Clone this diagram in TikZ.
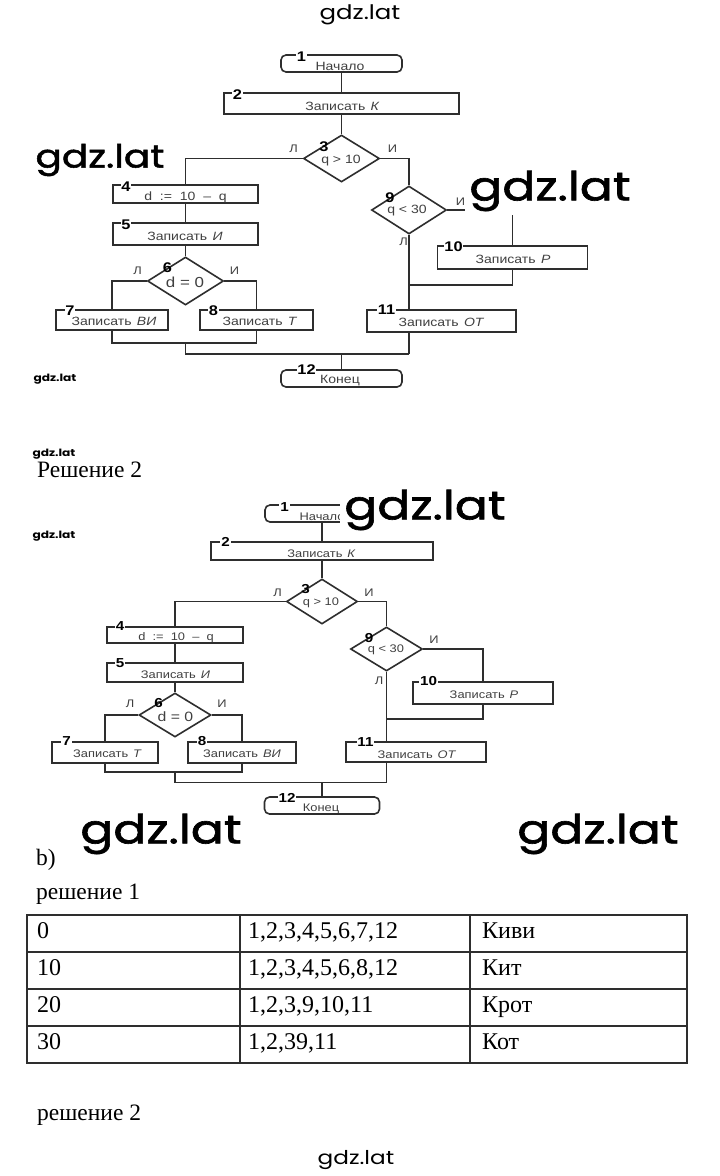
\documentclass[tikz,border=0pt]{standalone}
\usepackage{fontspec}
\setmainfont{Liberation Serif}
\newfontfamily\cf[FakeStretch=1.17]{Liberation Sans}
\newfontfamily\wmf[FakeStretch=1.22,FakeBold=1.6]{Poppins}
\newfontfamily\wmt[FakeStretch=1.22]{Poppins}
\usetikzlibrary{shapes.geometric}
\definecolor{ln}{HTML}{2E2E2E}
\definecolor{tx}{HTML}{404040}
\begin{document}
\begin{tikzpicture}[x=1pt,y=-1pt,
  fc/.style={draw=ln, line width=1.6pt, inner sep=0pt},
  box/.style={fc, rectangle},
  term/.style={fc, rectangle, rounded corners=5pt},
  dia/.style={fc, diamond},
  con/.style={draw=ln, line width=1.6pt},
  num/.style={fill=white, inner sep=0.8pt, text=black, font=\cf\bfseries\fontsize{14}{14}\selectfont},
  numb/.style={num, font=\cf\bfseries\fontsize{13}{13}\selectfont},
  txt/.style={inner sep=0pt, anchor=base, text=tx, font=\cf\fontsize{12}{12}\selectfont},
  txtb/.style={txt, font=\cf\fontsize{11}{12}\selectfont},
  big/.style={txt, font=\cf\fontsize{14.5}{14}\selectfont},
  bigb/.style={txt, font=\cf\fontsize{13.5}{13}\selectfont},
  lbl/.style={inner sep=0pt, text=tx, font=\cf\fontsize{11}{11}\selectfont},
  head/.style={inner sep=0pt, anchor=base west, text=black, font=\fontsize{23.5}{24}\selectfont},
  cell/.style={inner sep=0pt, anchor=base west, text=black, font=\fontsize{24}{24}\selectfont},
  tbl/.style={draw=ln, line width=1.2pt},
  wm/.style={fill=white, inner sep=4pt, text=black},
]
\useasboundingbox (0,0) rectangle (720,1176);
\fill[white] (0,0) rectangle (720,1176);

% ================= top flowchart =================
\node[term, minimum width=121pt, minimum height=17pt] (a1) at (341.5,63.5) {};
\node[box, minimum width=235pt, minimum height=21pt] (a2) at (341.5,103.5) {};
\node[dia, minimum width=76pt, minimum height=47pt] (a3) at (341.5,158.5) {};
\node[box, minimum width=145pt, minimum height=18pt] (a4) at (185.5,194) {};
\node[box, minimum width=145pt, minimum height=22pt] (a5) at (185.5,234) {};
\node[dia, minimum width=76pt, minimum height=48pt] (a6) at (185.5,281) {};
\node[box, minimum width=112pt, minimum height=20pt] (a7) at (112,320) {};
\node[box, minimum width=113pt, minimum height=20pt] (a8) at (256.5,320) {};
\node[dia, minimum width=75pt, minimum height=48pt] (a9) at (409,210) {};
\node[box, minimum width=150pt, minimum height=23pt] (a10) at (512.5,257.5) {};
\node[box, minimum width=149pt, minimum height=22pt] (a11) at (441.5,321) {};
\node[term, minimum width=121pt, minimum height=17pt] (a12) at (341.5,378.5) {};

\coordinate (am1) at (185.5,343);
\coordinate (aj1) at (409,354);
\coordinate (aj2) at (409,285);
\coordinate (aj3) at (341.5,354);

\draw[con] (a1.south) -- (a2.north);
\draw[con] (a2.south) -- (a3.north);
\draw[con] (a3.west) -| (a4.north);
\draw[con] (a4.south) -- (a5.north);
\draw[con] (a5.south) -- (a6.north);
\draw[con] (a6.west) -| (a7.north);
\draw[con] (a6.east) -| (a8.north);
\draw[con] (a7.south) |- (am1) -| (a8.south);
\draw[con] (am1) |- (aj1);
\draw[con] (a3.east) -| (a9.north);
\draw[con] (a9.east) -| (a10.north);
\draw[con] (a10.south) |- (aj2);
\draw[con] (a9.south) -- (a9.south |- a11.north);
\draw[con] (a9.south |- a11.south) -- (aj1);
\draw[con] (aj3) -- (a12.north);

\node[txt] (ta1) at (340,70) {Начало};
\node[txt] (ta2) at (342.5,110) {Записать\hspace{0.45em}\textit{К}};
\node[txt] (ta3) at (341,163) {q > 10};
\node[txt] (ta4) at (185.5,200) {d\ \ :=\ \ 10\ \ –\ \ q};
\node[txt] (ta5) at (185,240) {Записать\hspace{0.45em}\textit{И}};
\node[big] (ta6) at (185,287) {d = 0};
\node[txt] (ta7) at (114,325.5) {Записать\hspace{0.45em}\textit{ВИ}};
\node[txt] (ta8) at (260,325.5) {Записать\hspace{0.45em}\textit{Т}};
\node[txt] (ta9) at (407,213) {q < 30};
\node[txt] (ta10) at (513,263) {Записать\hspace{0.45em}\textit{Р}};
\node[txt] (ta11) at (441.5,326) {Записать\hspace{0.45em}\textit{ОТ}};
\node[txt] (ta12) at (340,383) {Конец};

\node[num] (na1) at (301.5,56.5) {1};
\node[num] (na2) at (237.5,95) {2};
\node[num, fill=none] (na3) at (324,147) {3};
\node[num] (na4) at (126,187) {4};
\node[num] (na5) at (126,225) {5};
\node[num, fill=none] (na6) at (167.5,268) {6};
\node[num] (na7) at (70,311) {7};
\node[num] (na8) at (213.5,311) {8};
\node[num, fill=none] (na9) at (390,198) {9};
\node[num] (na10) at (453.5,247) {10};
\node[num] (na11) at (386.5,310) {11};
\node[num] (na12) at (306.5,370) {12};

\node[lbl] (la3) at (293.5,148.5) {Л};
\node[lbl] (ia3) at (392.5,148.5) {И};
\node[lbl] (la6) at (137.5,270.5) {Л};
\node[lbl] (ia6) at (234.5,270.5) {И};
\node[lbl] (ia9) at (460.5,201.5) {И};
\node[lbl] (la9) at (403.5,241.5) {Л};

% ================= headings =================
\node[head] (h1) at (37,477) {Решение 2};

% ================= bottom flowchart =================
\node[term, minimum width=114pt, minimum height=17pt] (b1) at (322,513.5) {};
\node[box, minimum width=222pt, minimum height=18pt] (b2) at (322,551) {};
\node[dia, minimum width=71pt, minimum height=45pt] (b3) at (322,601.5) {};
\node[box, minimum width=136pt, minimum height=16pt] (b4) at (175,635) {};
\node[box, minimum width=136pt, minimum height=19pt] (b5) at (175,672.5) {};
\node[dia, minimum width=72pt, minimum height=44pt] (b6) at (175,715) {};
\node[box, minimum width=106pt, minimum height=21pt] (b7) at (105,752.5) {};
\node[box, minimum width=108pt, minimum height=21pt] (b8) at (242,752.5) {};
\node[dia, minimum width=72pt, minimum height=44pt] (b9) at (386.5,649) {};
\node[box, minimum width=140pt, minimum height=22pt] (b10) at (483,693) {};
\node[box, minimum width=140pt, minimum height=20pt] (b11) at (416,752) {};
\node[term, minimum width=115pt, minimum height=17pt] (b12) at (322,805.5) {};

\coordinate (bm1) at (175,772);
\coordinate (bj1) at (386.5,782.5);
\coordinate (bj2) at (386.5,719);
\coordinate (bj3) at (322,782.5);

\draw[con] (b1.south) -- (b2.north);
\draw[con] (b2.south) -- (b3.north);
\draw[con] (b3.west) -| (b4.north);
\draw[con] (b4.south) -- (b5.north);
\draw[con] (b5.south) -- (b6.north);
\draw[con] (b6.west) -| (b7.north);
\draw[con] (b6.east) -| (b8.north);
\draw[con] (b7.south) |- (bm1) -| (b8.south);
\draw[con] (bm1) |- (bj1);
\draw[con] (b3.east) -| (b9.north);
\draw[con] (b9.east) -| (b10.north);
\draw[con] (b10.south) |- (bj2);
\draw[con] (b9.south) -- (b9.south |- b11.north);
\draw[con] (b9.south |- b11.south) -- (bj1);
\draw[con] (bj3) -- (b12.north);

\node[txtb] (tb1) at (322,520) {Начало};
\node[txtb] (tb2) at (321.5,557) {Записать\hspace{0.45em}\textit{К}};
\node[txtb] (tb3) at (321,605) {q > 10};
\node[txtb] (tb4) at (176,640) {d\ \ :=\ \ 10\ \ –\ \ q};
\node[txtb] (tb5) at (175.5,678) {Записать\hspace{0.45em}\textit{И}};
\node[bigb] (tb6) at (175.5,721) {d = 0};
\node[txtb] (tb7) at (107.5,757) {Записать\hspace{0.45em}\textit{Т}};
\node[txtb] (tb8) at (242,757) {Записать\hspace{0.45em}\textit{ВИ}};
\node[txtb] (tb9) at (386,652) {q < 30};
\node[txtb] (tb10) at (484,698) {Записать\hspace{0.45em}\textit{Р}};
\node[txtb] (tb11) at (417,758) {Записать\hspace{0.45em}\textit{ОТ}};
\node[txtb] (tb12) at (321,811) {Конец};

\node[numb] (nb1) at (284.5,507) {1};
\node[numb] (nb2) at (225.5,542) {2};
\node[numb, fill=none] (nb3) at (305.5,589) {3};
\node[numb] (nb4) at (120,626) {4};
\node[numb] (nb5) at (120,663) {5};
\node[numb, fill=none] (nb6) at (158.5,703) {6};
\node[numb] (nb7) at (66.5,741) {7};
\node[numb] (nb8) at (202,741) {8};
\node[numb, fill=none] (nb9) at (369,638) {9};
\node[numb] (nb10) at (428.5,681.5) {10};
\node[numb] (nb11) at (365.5,742) {11};
\node[numb] (nb12) at (287,798) {12};

\node[lbl] (lb3) at (277.5,593) {Л};
\node[lbl] (ib3) at (369,593) {И};
\node[lbl] (lb6) at (130,704) {Л};
\node[lbl] (ib6) at (222,704) {И};
\node[lbl] (ib9) at (434,640) {И};
\node[lbl] (lb9) at (379,681) {Л};

% ================= part b =================
\node[head] (h2) at (36,865) {b)};
\node[head] (h3) at (36,899) {решение 1};
\node[head] (h4) at (37,1120) {решение 2};

\draw[tbl] (27,915) rectangle (687,1063);
\draw[tbl] (27,952) -- (687,952);
\draw[tbl] (27,989) -- (687,989);
\draw[tbl] (27,1026) -- (687,1026);
\draw[tbl] (240,915) -- (240,1063);
\draw[tbl] (470,915) -- (470,1063);

\node[cell] (c11) at (37,938) {0};
\node[cell] (c12) at (248,938) {1,2,3,4,5,6,7,12};
\node[cell] (c13) at (482,938) {Киви};
\node[cell] (c21) at (37,975) {10};
\node[cell] (c22) at (248,975) {1,2,3,4,5,6,8,12};
\node[cell] (c23) at (482,975) {Кит};
\node[cell] (c31) at (37,1012) {20};
\node[cell] (c32) at (248,1012) {1,2,3,9,10,11};
\node[cell] (c33) at (482,1012) {Крот};
\node[cell] (c41) at (37,1049) {30};
\node[cell] (c42) at (248,1049) {1,2,39,11};
\node[cell] (c43) at (482,1049) {Кот};

% ================= watermarks =================
\node[wm, font=\wmt\fontsize{20}{20}\selectfont] (w1) at (360,15) {gdz.lat};
\node[wm, font=\wmf\fontsize{32}{32}\selectfont] (w2) at (100,160) {gdz.lat};
\node[wm, font=\wmf\fontsize{40}{40}\selectfont] (w3) at (550,191) {gdz.lat};
\node[wm, font=\wmf\fontsize{40}{40}\selectfont] (w4) at (425,510) {gdz.lat};
\node[wm, font=\wmf\fontsize{40}{40}\selectfont] (w5) at (161,834) {gdz.lat};
\node[wm, font=\wmf\fontsize{40}{40}\selectfont] (w6) at (598,834) {gdz.lat};
\node[wm, font=\wmt\fontsize{19}{19}\selectfont] (w7) at (356,1160) {gdz.lat};
\node[wm, inner sep=1pt, font=\wmt\bfseries\fontsize{10}{10}\selectfont] (w8) at (55,379) {gdz.lat};
\node[wm, inner sep=1pt, font=\wmt\bfseries\fontsize{10}{10}\selectfont] (w9) at (54,454) {gdz.lat};
\node[wm, inner sep=1pt, font=\wmt\bfseries\fontsize{10}{10}\selectfont] (w10) at (54,536) {gdz.lat};
\end{tikzpicture}
\end{document}
